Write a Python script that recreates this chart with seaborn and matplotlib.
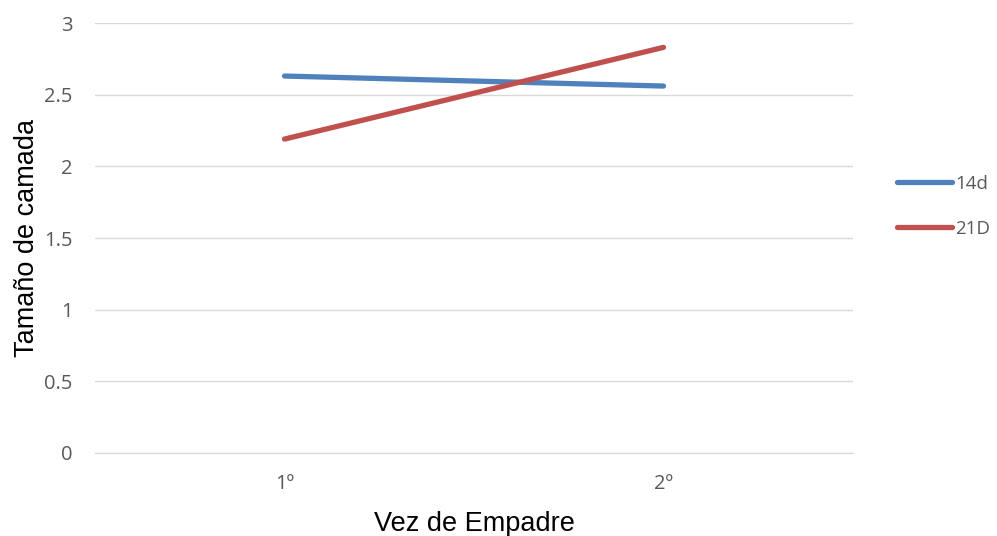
import matplotlib
matplotlib.use("Agg")
import matplotlib.pyplot as plt
import seaborn as sns
import pandas as pd

categories = ["1º", "2º"]
series_names = ["14d", "21D"]
values_14d = [2.63, 2.56]
values_21d = [2.19, 2.83]
y_ticks = [0, 0.5, 1, 1.5, 2, 2.5, 3]
y_tick_labels = ["0", "0.5", "1", "1.5", "2", "2.5", "3"]

df = pd.DataFrame({
    "Vez de Empadre": categories * 2,
    "Tamaño de camada": values_14d + values_21d,
    "serie": [series_names[0]] * 2 + [series_names[1]] * 2,
})

sns.set_style("white")
plt.rcParams["font.family"] = ["Liberation Sans", "DejaVu Sans"]

fig = plt.figure(figsize=(9.97, 5.36), dpi=100)
ax = fig.add_axes([95 / 997, 1 - 453 / 536, (853 - 95) / 997, (453 - 23) / 536])

palette = {"14d": "#4f81bd", "21D": "#c0504d"}
sns.lineplot(data=df, x="Vez de Empadre", y="Tamaño de camada", hue="serie",
             palette=palette, linewidth=3.8, ax=ax, sort=False,
             solid_capstyle="round", legend=True)

ax.set_xlim(-0.5, 1.5)
ax.set_ylim(0, 3)
ax.set_yticks(y_ticks)
ax.set_yticklabels(y_tick_labels)
ax.grid(axis="y", color="#d9d9d9", linewidth=1)
ax.set_axisbelow(True)
for side in ["top", "right", "left"]:
    ax.spines[side].set_visible(False)
ax.spines["bottom"].set_color("#d9d9d9")
ax.tick_params(axis="both", length=0, labelsize=14.5, labelcolor="#595959")
for lbl in ax.get_xticklabels() + ax.get_yticklabels():
    lbl.set_family(["Open Sans", "DejaVu Sans"])
ax.tick_params(axis="x", pad=15)
ax.tick_params(axis="y", pad=16)

ax.set_xlabel("Vez de Empadre", fontsize=19.5, color="black")
ax.set_ylabel("Tamaño de camada", fontsize=19.5, color="black")
ax.xaxis.set_label_coords(0.5, -0.135)
ax.yaxis.set_label_coords(-0.073, 0.5)

leg = ax.legend(title=None, frameon=False, loc="center left",
                bbox_to_anchor=(1.058, 0.574), borderaxespad=0, borderpad=0,
                handlelength=2.95, handletextpad=0.15, labelspacing=1.45,
                fontsize=13.5)
for t in leg.get_texts():
    t.set_color("#595959")
    t.set_family(["Open Sans", "DejaVu Sans"])
for h in leg.get_lines():
    h.set_linewidth(3.8)
    h.set_solid_capstyle("round")

fig.savefig("out.png", dpi=100)
